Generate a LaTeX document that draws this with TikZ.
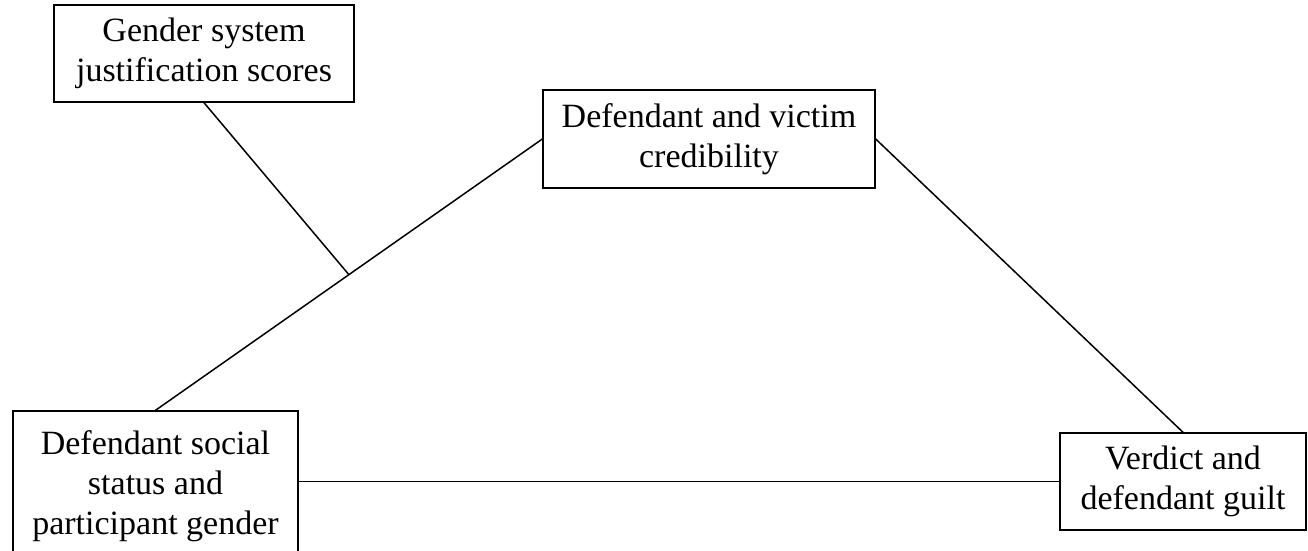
\documentclass[tikz,border=0pt]{standalone}
\usepackage{fontspec}
\setmainfont{Liberation Serif}
\usetikzlibrary{calc}
\begin{document}
\begin{tikzpicture}[x=1pt,y=-1pt,
  vbox/.style={draw, line width=1.4pt, align=center, inner sep=0pt,
    font=\fontsize{34}{40}\selectfont},
  link/.style={line width=1.5pt}]
\useasboundingbox (0,0) rectangle (1308,550);
\clip (0,0) rectangle (1308,550);
\node[vbox, minimum width=300pt, minimum height=97pt] (gsj) at (204,53.5) {Gender system\\justification scores};
\node[vbox, minimum width=332pt, minimum height=98pt] (cred) at (709,139) {Defendant and victim\\credibility};
\node[vbox, minimum width=285pt, minimum height=150pt] (dss) at (155.5,486) {Defendant social\\status and\\participant gender};
\node[vbox, minimum width=246pt, minimum height=97pt] (ver) at (1183,481.5) {Verdict and\\defendant guilt};
\coordinate (mod) at ($(cred.west)!0.5!(dss.north)$);
\draw[link] (cred.west) -- (dss.north);
\draw[link] (cred.east) -- (ver.north);
\draw[link] (ver.west) -- (dss.east |- ver.west);
\draw[link] (gsj.south) -- (mod);
\end{tikzpicture}
\end{document}
